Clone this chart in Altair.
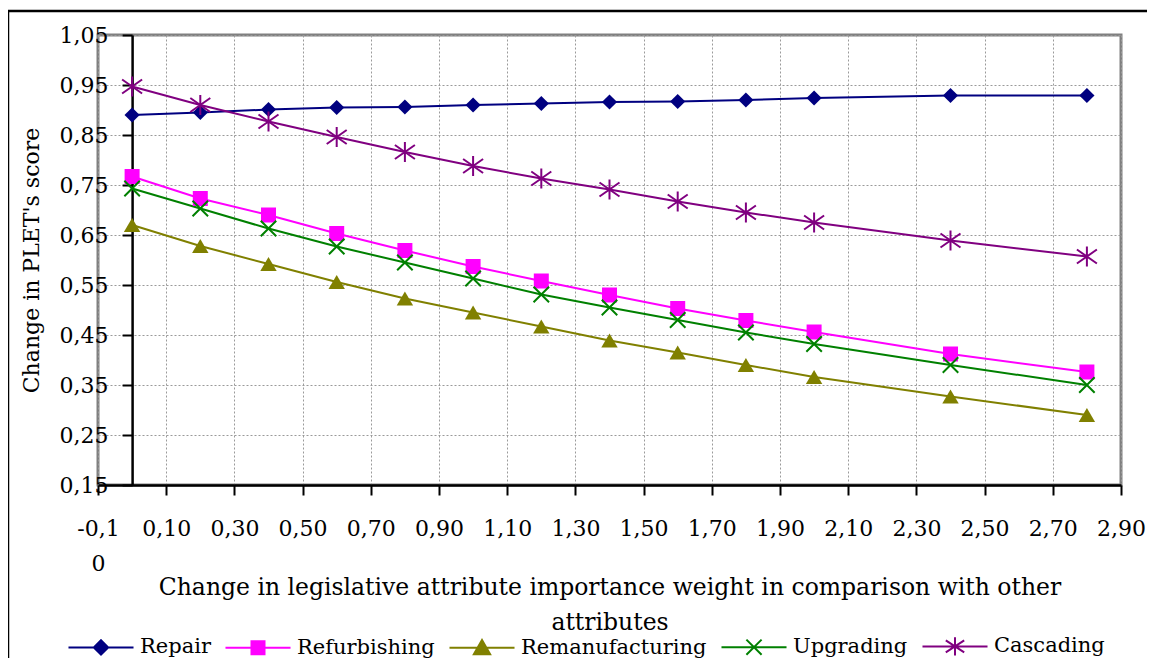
import altair as alt
import pandas as pd

# ---- data ----
x_values = [0.0, 0.2, 0.4, 0.6, 0.8, 1.0, 1.2, 1.4, 1.6, 1.8, 2.0, 2.4, 2.8]
series_names = ["Repair", "Refurbishing", "Remanufacturing", "Upgrading", "Cascading"]
repair = [0.890, 0.895, 0.901, 0.905, 0.906, 0.910, 0.913, 0.916, 0.917, 0.920, 0.924, 0.929, 0.929]
refurbishing = [0.767, 0.723, 0.690, 0.653, 0.619, 0.587, 0.558, 0.530, 0.503, 0.479, 0.456, 0.412, 0.376]
remanufacturing = [0.670, 0.628, 0.592, 0.556, 0.523, 0.495, 0.467, 0.439, 0.415, 0.390, 0.366, 0.327, 0.290]
upgrading = [0.743, 0.703, 0.663, 0.627, 0.595, 0.563, 0.531, 0.505, 0.480, 0.455, 0.432, 0.390, 0.350]
cascading = [0.947, 0.910, 0.877, 0.846, 0.816, 0.788, 0.763, 0.741, 0.717, 0.695, 0.675, 0.639, 0.607]

x_ticks = [-0.1, 0.1, 0.3, 0.5, 0.7, 0.9, 1.1, 1.3, 1.5, 1.7, 1.9, 2.1, 2.3, 2.5, 2.7, 2.9]
y_ticks = [0.15, 0.25, 0.35, 0.45, 0.55, 0.65, 0.75, 0.85, 0.95, 1.05]

x_title = ["Change in legislative attribute importance weight in comparison with other", "attributes"]
y_title = "Change in PLET's score"

# ---- styles ----
colors = ["#000080", "#FF00FF", "#808000", "#008000", "#800080"]
marker_shapes = [
    "diamond",
    "square",
    "triangle-up",
    "M-1,-1L1,1M-1,1L1,-1",
    "M-1,-0.7L1,0.7M-1,0.7L1,-0.7M0,-1L0,1",
]
marker_filled = [True, True, True, False, False]
marker_sizes = [230, 225, 270, 240, 400]
legend_shapes = [
    "M-3,0L3,0M0,-0.66L0.66,0L0,0.66L-0.66,0Z",
    "M-3,0L3,0M-0.6,-0.6L0.6,-0.6L0.6,0.6L-0.6,0.6Z",
    "M-3,0L3,0M0,-0.72L0.75,0.58L-0.75,0.58Z",
    "M-3,0L3,0M-0.7,-0.7L0.7,0.7M-0.7,0.7L0.7,-0.7",
    "M-3,0L3,0M-0.85,-0.55L0.85,0.55M-0.85,0.55L0.85,-0.55M0,-0.85L0,0.85",
]
FONT = "DejaVu Serif"
FS = 22
W = 1023
H = 450

rows = []
for name, vals in zip(series_names, [repair, refurbishing, remanufacturing, upgrading, cascading]):
    for xv, yv in zip(x_values, vals):
        rows.append({"series": name, "x": xv, "y": yv})
df = pd.DataFrame(rows)

color_scale = alt.Scale(domain=series_names, range=colors)

x_enc = alt.X(
    "x:Q",
    scale=alt.Scale(domain=[-0.1, 2.9], nice=False, zero=False),
    axis=alt.Axis(
        values=x_ticks,
        labelExpr="datum.value < 0 ? ['-0,1', '0'] : replace(format(datum.value, '.2f'), '.', ',')",
        title=x_title,
        grid=True,
        gridColor="#9a9a9a",
        gridDash=[2, 2],
        gridWidth=1,
        domainColor="black",
        domainWidth=2.5,
        tickColor="black",
        tickWidth=2,
        tickSize=10,
        labelFont=FONT,
        labelFontSize=FS,
        labelColor="black",
        labelPadding=23,
        labelLineHeight=35,
        labelFlush=False,
        labelOverlap=False,
        titleFont=FONT,
        titleFontSize=23.5,
        titleFontWeight="normal",
        titleColor="black",
        titleLineHeight=35,
        titlePadding=1,
    ),
)
y_enc = alt.Y(
    "y:Q",
    scale=alt.Scale(domain=[0.15, 1.05], nice=False, zero=False),
    axis=alt.Axis(
        values=y_ticks,
        labelExpr="replace(format(datum.value, '.2f'), '.', ',')",
        title=y_title,
        offset=-W / 30.0,
        grid=True,
        gridColor="#9a9a9a",
        gridDash=[2, 2],
        gridWidth=1,
        domainColor="black",
        domainWidth=2.5,
        tickColor="black",
        tickWidth=2,
        tickSize=10,
        labelFont=FONT,
        labelFontSize=FS,
        labelColor="black",
        labelPadding=14,
        labelFlush=False,
        labelOverlap=False,
        titleFont=FONT,
        titleFontSize=FS,
        titleFontWeight="normal",
        titleColor="black",
        titlePadding=16,
    ),
)

base = alt.Chart(df).encode(x=x_enc, y=y_enc)

layers = []
for name, c in zip(series_names, colors):
    layers.append(
        base.transform_filter(alt.datum.series == name).mark_line(strokeWidth=2, color=c)
    )
for name, c, shp, fil, sz in zip(series_names, colors, marker_shapes, marker_filled, marker_sizes):
    if fil:
        m = base.transform_filter(alt.datum.series == name).mark_point(
            shape=shp, filled=True, color=c, size=sz, opacity=1, strokeWidth=0
        )
    else:
        m = base.transform_filter(alt.datum.series == name).mark_point(
            shape=shp, filled=False, color=c, size=sz, opacity=1, strokeWidth=2
        )
    layers.append(m)

leg = alt.Legend(
    title=None,
    orient="none",
    legendX=-9,
    legendY=599,
    direction="horizontal",
    labelFont=FONT,
    labelFontSize=21,
    labelColor="black",
    labelOffset=27,
    labelLimit=400,
    columnPadding=10,
    symbolSize=470,
    symbolStrokeWidth=2,
    symbolOpacity=1,
    padding=0,
)

legend_layer = base.transform_filter("datum.y > 10").mark_point(
    filled=True, opacity=1, strokeWidth=2
).encode(
    fill=alt.Fill("series:N", scale=color_scale, legend=leg),
    stroke=alt.Stroke("series:N", scale=color_scale, legend=leg),
    shape=alt.Shape("series:N", scale=alt.Scale(domain=series_names, range=legend_shapes), legend=leg),
)
layers.append(legend_layer)

# outer chart frame (top and left edges; the others fall outside the window)
frame_df = pd.DataFrame({"k": [0]})
frame_top = alt.Chart(frame_df).mark_rule(color="black", strokeWidth=2.5).encode(
    x=alt.value(-90), x2=alt.value(W + 60), y=alt.value(-24)
)
frame_left = alt.Chart(frame_df).mark_rule(color="black", strokeWidth=2.5).encode(
    x=alt.value(-90), y=alt.value(-25), y2=alt.value(700)
)
layers += [frame_top, frame_left]

chart = alt.layer(*layers).properties(
    width=W,
    height=H,
    autosize=alt.AutoSizeParams(type="none"),
    padding={"left": 90, "top": 27, "right": 26, "bottom": 173},
).configure(font=FONT).configure_view(stroke="#808080", strokeWidth=3)

chart.save("out.html", embed_options={"renderer": "svg", "actions": False})
